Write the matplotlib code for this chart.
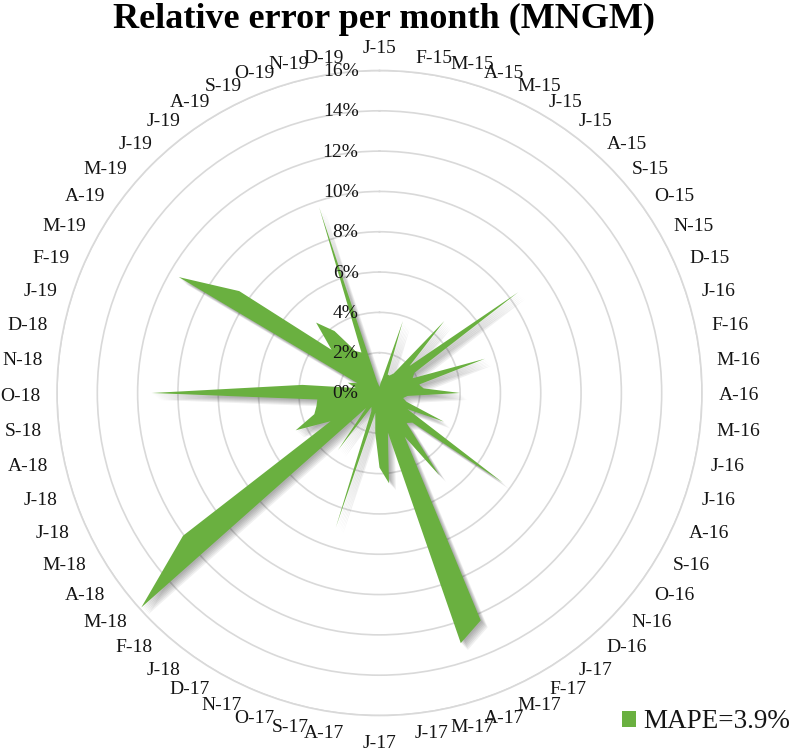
import numpy as np
import matplotlib
matplotlib.use("Agg")
import matplotlib.pyplot as plt
from matplotlib.transforms import ScaledTranslation
import matplotlib.patheffects as pe
from matplotlib.patches import Patch

# ---------------- data ----------------
months = ["J-15", "F-15", "M-15", "A-15", "M-15", "J-15", "J-15", "A-15", "S-15", "O-15", "N-15", "D-15",
          "J-16", "F-16", "M-16", "A-16", "M-16", "J-16", "J-16", "A-16", "S-16", "O-16", "N-16", "D-16",
          "J-17", "F-17", "M-17", "A-17", "M-17", "J-17", "J-17", "A-17", "S-17", "O-17", "N-17", "D-17",
          "J-18", "F-18", "M-18", "A-18", "M-18", "J-18", "J-18", "A-18", "S-18", "O-18", "N-18", "D-18",
          "J-19", "F-19", "M-19", "A-19", "M-19", "J-19", "J-19", "A-19", "S-19", "O-19", "N-19", "D-19"]

# relative error (%) per month
rel_error = [0.3, 0.5, 0.8, 3.75, 1.0, 1.0, 1.2, 4.8, 2.0, 8.5, 2.0, 1.8,
             5.5, 2.0, 2.2, 4.0, 1.4, 1.2, 1.4, 3.5, 1.6, 7.55, 2.2, 2.0,
             5.05, 2.5, 12.35, 13.05, 2.0, 4.5, 3.7, 2.0, 1.0, 7.0, 1.0, 0.8,
             3.5, 1.0, 15.9, 12.05, 2.8, 4.55, 3.4, 3.2, 3.1, 11.3, 3.85, 1.2,
             1.65, 1.2, 11.5, 8.6, 3.2, 4.7, 3.8, 2.4, 2.2, 9.7, 0.6, 0.4]

ring_values = [0, 2, 4, 6, 8, 10, 12, 14, 16]
ring_labels = ["0%", "2%", "4%", "6%", "8%", "10%", "12%", "14%", "16%"]
legend_label = "MAPE=3.9%"
title_text = "Relative error per month (MNGM)"

# ---------------- style ----------------
plt.rcParams['font.family'] = ['Liberation Serif', 'DejaVu Serif']
GREEN = "#6AB040"
GRID = "#D9D9D9"
TXT = "#151515"

W, H = 792, 751
fig = plt.figure(figsize=(W / 100, H / 100), dpi=100)
cx, cy, R = 379.5, 393.0, 322.5   # pixel centre / radius (from top)
ax = fig.add_axes([(cx - R) / W, (H - cy - R) / H, 2 * R / W, 2 * R / H], projection='polar')
ax.set_theta_zero_location('N')
ax.set_theta_direction(-1)
ax.set_ylim(0, ring_values[-1])

n = len(months)
theta = np.deg2rad(np.arange(n) * 360.0 / n)
th_closed = np.append(theta, theta[0])
v_closed = np.append(rel_error, rel_error[0])

# grid
ax.set_xticks(theta)
ax.set_xticklabels([])
ax.xaxis.grid(False)
ax.set_yticks(ring_values[1:])
ax.set_yticklabels([])
ax.yaxis.grid(True, color=GRID, linewidth=1.2)
ax.spines['polar'].set_color(GRID)
ax.spines['polar'].set_linewidth(1.2)
ax.tick_params(length=0)
ax.set_axisbelow(True)

# filled radar with soft shadow
shadow = [pe.SimplePatchShadow(offset=(o, -o), shadow_rgbFace='black', alpha=0.06)
          for o in (1.0, 1.8, 2.6, 3.4, 4.2, 5.0)]
ax.fill(th_closed, v_closed, color=GREEN, linewidth=0, zorder=3,
        path_effects=shadow + [pe.Normal()])

# radial labels (left of the vertical axis)
off = ScaledTranslation(-21 / 100, -1 / 100, fig.dpi_scale_trans)
for v, lab in zip(ring_values, ring_labels):
    ax.text(0, v, lab, ha='right', va='center', fontsize=14, color=TXT,
            transform=ax.transData + off, zorder=6)

# category labels around
r_lab = ring_values[-1] * 339.0 / R
down = ScaledTranslation(0, -3 / 100, fig.dpi_scale_trans)
for th, lab in zip(theta, months):
    s, c = np.sin(th), np.cos(th)
    if abs(s) < 1e-6:
        ha = 'center'
        va = 'bottom' if c > 0 else 'top'
    else:
        ha = 'left' if s > 0 else 'right'
        va = 'center'
    ax.text(th, r_lab, lab, ha=ha, va=va, fontsize=14, color=TXT, clip_on=False,
            transform=ax.transData + down)

# title
fig.text(384 / W, 1 - 28 / H, title_text, ha='center', va='baseline', fontsize=26,
         fontweight='bold', color='black')

# legend
fig.legend(handles=[Patch(facecolor=GREEN, edgecolor='none', label=legend_label)],
           loc='center left', bbox_to_anchor=(622 / W, 1 - 722 / H), frameon=False,
           fontsize=19.5, handlelength=0.52, handleheight=0.5, handletextpad=0.25,
           borderpad=0, borderaxespad=0, labelcolor=TXT)

fig.savefig("out.png", dpi=100)
